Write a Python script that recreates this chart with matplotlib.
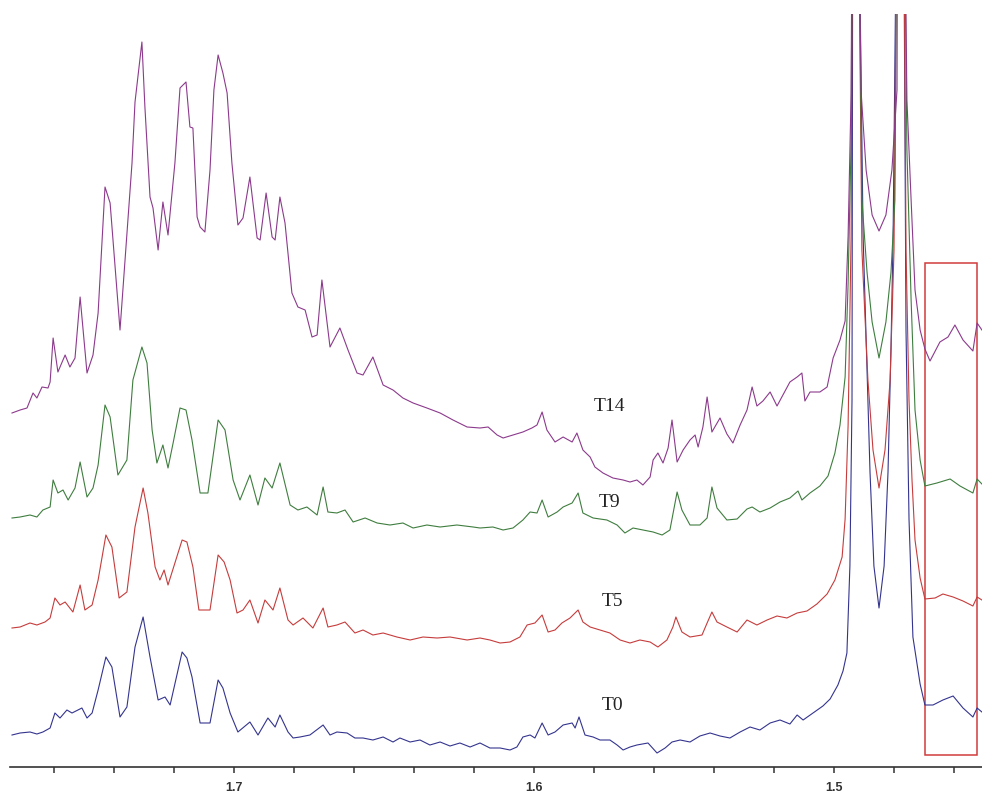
import numpy as np
import matplotlib
matplotlib.use("Agg")
import matplotlib.pyplot as plt
from matplotlib.patches import Rectangle

# 1H NMR stack, 1.45 - 1.77 ppm, intensities in arbitrary units
# T0 spectrum
t0_ppm = [1.7740, 1.7713, 1.7680, 1.7657, 1.7637, 1.7613, 1.7597, 1.7580, 1.7557, 1.7540,
          1.7507, 1.7490, 1.7473, 1.7453, 1.7427, 1.7407, 1.7380, 1.7357, 1.7330, 1.7303,
          1.7280, 1.7253, 1.7230, 1.7213, 1.7173, 1.7157, 1.7140, 1.7113, 1.7080, 1.7053,
          1.7037, 1.7013, 1.6987, 1.6947, 1.6920, 1.6887, 1.6863, 1.6847, 1.6820, 1.6803,
          1.6780, 1.6747, 1.6703, 1.6680, 1.6657, 1.6623, 1.6597, 1.6570, 1.6537, 1.6503,
          1.6470, 1.6447, 1.6413, 1.6380, 1.6347, 1.6313, 1.6280, 1.6247, 1.6213, 1.6180,
          1.6147, 1.6113, 1.6080, 1.6057, 1.6037, 1.6013, 1.5997, 1.5973, 1.5953, 1.5930,
          1.5903, 1.5873, 1.5863, 1.5850, 1.5830, 1.5803, 1.5780, 1.5747, 1.5723, 1.5703,
          1.5680, 1.5657, 1.5620, 1.5590, 1.5563, 1.5540, 1.5513, 1.5480, 1.5447, 1.5413,
          1.5380, 1.5347, 1.5313, 1.5280, 1.5247, 1.5213, 1.5180, 1.5147, 1.5123, 1.5103,
          1.5070, 1.5037, 1.5013, 1.4987, 1.4970, 1.4957, 1.4947, 1.4940, 1.4937, 1.4923,
          1.4903, 1.4880, 1.4867, 1.4850, 1.4833, 1.4820, 1.4810, 1.4803, 1.4787, 1.4770,
          1.4760, 1.4750, 1.4737, 1.4713, 1.4697, 1.4670, 1.4637, 1.4603, 1.4570, 1.4537,
          1.4523, 1.4507]
t0_int = [32, 34, 35, 33, 35, 39, 54, 49, 57, 54,
          59, 49, 54, 77, 110, 100, 50, 60, 120, 150,
          110, 67, 70, 62, 115, 109, 90, 44, 44, 87,
          79, 54, 35, 45, 32, 49, 40, 52, 35, 29,
          30, 32, 42, 32, 35, 34, 29, 29, 27, 30,
          25, 29, 25, 27, 22, 25, 21, 24, 20, 24,
          19, 19, 17, 20, 30, 32, 29, 44, 32, 35,
          42, 44, 39, 50, 32, 30, 27, 27, 22, 17,
          20, 22, 24, 14, 19, 25, 27, 25, 31, 34,
          31, 29, 35, 40, 37, 44, 47, 43, 52, 47,
          54, 61, 68, 82, 96, 114, 201, 367, 1000, 1000,
          531, 295, 201, 159, 201, 295, 420, 531, 1000, 1000,
          437, 248, 130, 83, 62, 62, 67, 71, 59, 50,
          59, 55]

# T5 spectrum
t5_ppm = [1.7740, 1.7713, 1.7680, 1.7657, 1.7630, 1.7613, 1.7597, 1.7580, 1.7563, 1.7537,
          1.7513, 1.7497, 1.7473, 1.7453, 1.7427, 1.7407, 1.7383, 1.7357, 1.7330, 1.7303,
          1.7287, 1.7263, 1.7247, 1.7233, 1.7220, 1.7197, 1.7173, 1.7157, 1.7137, 1.7117,
          1.7080, 1.7053, 1.7033, 1.7013, 1.6990, 1.6970, 1.6947, 1.6920, 1.6897, 1.6870,
          1.6847, 1.6820, 1.6803, 1.6770, 1.6737, 1.6703, 1.6687, 1.6657, 1.6630, 1.6597,
          1.6570, 1.6537, 1.6503, 1.6457, 1.6413, 1.6370, 1.6323, 1.6280, 1.6223, 1.6180,
          1.6147, 1.6113, 1.6080, 1.6047, 1.6023, 1.5997, 1.5973, 1.5953, 1.5930, 1.5907,
          1.5880, 1.5853, 1.5837, 1.5813, 1.5780, 1.5747, 1.5713, 1.5680, 1.5647, 1.5613,
          1.5587, 1.5557, 1.5537, 1.5527, 1.5507, 1.5480, 1.5440, 1.5423, 1.5407, 1.5390,
          1.5357, 1.5323, 1.5290, 1.5257, 1.5223, 1.5190, 1.5157, 1.5123, 1.5090, 1.5057,
          1.5023, 1.4997, 1.4973, 1.4963, 1.4953, 1.4943, 1.4937, 1.4923, 1.4907, 1.4887,
          1.4870, 1.4850, 1.4830, 1.4813, 1.4800, 1.4787, 1.4770, 1.4760, 1.4750, 1.4740,
          1.4730, 1.4713, 1.4697, 1.4663, 1.4637, 1.4603, 1.4570, 1.4537, 1.4523, 1.4507]
t5_int = [32, 33, 37, 35, 38, 42, 62, 55, 58, 48,
          75, 50, 55, 80, 125, 113, 62, 68, 133, 172,
          147, 93, 80, 90, 75, 97, 120, 118, 93, 50,
          50, 105, 98, 80, 47, 50, 60, 37, 60, 50,
          72, 40, 35, 42, 32, 52, 33, 35, 38, 27,
          30, 25, 27, 23, 20, 23, 22, 23, 20, 22,
          20, 17, 18, 23, 35, 37, 45, 28, 30, 37,
          42, 50, 38, 33, 30, 27, 20, 17, 20, 18,
          13, 20, 33, 43, 28, 23, 25, 37, 48, 38,
          33, 28, 40, 35, 40, 44, 42, 47, 49, 56,
          66, 80, 103, 141, 235, 424, 900, 900, 410, 280,
          210, 172, 210, 280, 410, 900, 900, 410, 260, 180,
          120, 82, 61, 62, 66, 63, 59, 54, 63, 60]

# T9 spectrum
t9_ppm = [1.7740, 1.7713, 1.7680, 1.7657, 1.7637, 1.7613, 1.7603, 1.7587, 1.7570, 1.7553,
          1.7530, 1.7513, 1.7490, 1.7470, 1.7453, 1.7430, 1.7413, 1.7387, 1.7357, 1.7337,
          1.7307, 1.7290, 1.7273, 1.7257, 1.7237, 1.7220, 1.7203, 1.7180, 1.7160, 1.7140,
          1.7113, 1.7087, 1.7053, 1.7030, 1.7003, 1.6980, 1.6947, 1.6920, 1.6897, 1.6873,
          1.6847, 1.6813, 1.6787, 1.6757, 1.6723, 1.6703, 1.6687, 1.6657, 1.6630, 1.6603,
          1.6563, 1.6523, 1.6480, 1.6437, 1.6403, 1.6357, 1.6313, 1.6257, 1.6203, 1.6180,
          1.6137, 1.6103, 1.6070, 1.6037, 1.6013, 1.5990, 1.5973, 1.5953, 1.5923, 1.5903,
          1.5873, 1.5853, 1.5837, 1.5803, 1.5757, 1.5723, 1.5697, 1.5670, 1.5637, 1.5603,
          1.5573, 1.5547, 1.5523, 1.5507, 1.5480, 1.5447, 1.5423, 1.5407, 1.5390, 1.5357,
          1.5323, 1.5290, 1.5273, 1.5247, 1.5213, 1.5180, 1.5147, 1.5120, 1.5107, 1.5080,
          1.5047, 1.5020, 1.4997, 1.4980, 1.4963, 1.4953, 1.4943, 1.4937, 1.4923, 1.4907,
          1.4890, 1.4873, 1.4850, 1.4827, 1.4810, 1.4797, 1.4787, 1.4770, 1.4757, 1.4743,
          1.4730, 1.4713, 1.4697, 1.4657, 1.4613, 1.4580, 1.4537, 1.4523, 1.4507]
t9_int = [34, 35, 37, 35, 42, 45, 72, 59, 62, 52,
          64, 90, 55, 64, 87, 147, 135, 77, 92, 172,
          205, 189, 122, 89, 107, 84, 109, 144, 142, 112,
          59, 59, 132, 122, 72, 52, 77, 47, 74, 64,
          89, 47, 42, 45, 37, 65, 40, 39, 42, 30,
          34, 29, 27, 29, 24, 27, 25, 27, 25, 24,
          25, 22, 24, 32, 40, 39, 52, 35, 40, 45,
          49, 59, 39, 34, 32, 27, 19, 24, 22, 20,
          17, 22, 60, 42, 27, 27, 34, 65, 44, 32,
          33, 43, 45, 40, 44, 50, 54, 61, 52, 59,
          66, 76, 99, 127, 175, 269, 410, 800, 800, 352,
          280, 230, 194, 230, 280, 352, 800, 800, 402, 252,
          142, 92, 66, 69, 73, 66, 59, 73, 68]

# T14 spectrum
t14_ppm = [1.7740, 1.7713, 1.7690, 1.7670, 1.7657, 1.7640, 1.7620, 1.7613, 1.7603, 1.7587,
           1.7563, 1.7547, 1.7530, 1.7513, 1.7490, 1.7470, 1.7453, 1.7430, 1.7413, 1.7380,
           1.7340, 1.7330, 1.7307, 1.7297, 1.7280, 1.7270, 1.7253, 1.7237, 1.7220, 1.7197,
           1.7180, 1.7160, 1.7147, 1.7137, 1.7123, 1.7113, 1.7097, 1.7080, 1.7067, 1.7053,
           1.7037, 1.7023, 1.7007, 1.6987, 1.6970, 1.6947, 1.6923, 1.6913, 1.6893, 1.6873,
           1.6863, 1.6847, 1.6830, 1.6807, 1.6787, 1.6763, 1.6740, 1.6723, 1.6707, 1.6680,
           1.6647, 1.6620, 1.6590, 1.6570, 1.6537, 1.6503, 1.6470, 1.6437, 1.6403, 1.6357,
           1.6313, 1.6270, 1.6223, 1.6180, 1.6153, 1.6123, 1.6103, 1.6070, 1.6037, 1.6007,
           1.5990, 1.5973, 1.5957, 1.5930, 1.5903, 1.5873, 1.5857, 1.5837, 1.5813, 1.5797,
           1.5770, 1.5737, 1.5703, 1.5680, 1.5657, 1.5637, 1.5613, 1.5603, 1.5587, 1.5570,
           1.5553, 1.5540, 1.5523, 1.5503, 1.5480, 1.5463, 1.5453, 1.5437, 1.5423, 1.5407,
           1.5380, 1.5357, 1.5337, 1.5313, 1.5290, 1.5273, 1.5257, 1.5237, 1.5213, 1.5190,
           1.5147, 1.5123, 1.5107, 1.5097, 1.5080, 1.5047, 1.5023, 1.5003, 1.4980, 1.4963,
           1.4953, 1.4943, 1.4937, 1.4923, 1.4910, 1.4893, 1.4873, 1.4850, 1.4827, 1.4807,
           1.4790, 1.4787, 1.4770, 1.4757, 1.4743, 1.4730, 1.4713, 1.4697, 1.4680, 1.4647,
           1.4620, 1.4597, 1.4570, 1.4537, 1.4523, 1.4507]
t14_int = [32, 35, 37, 52, 47, 58, 57, 63, 107, 73,
           90, 78, 87, 148, 72, 90, 132, 258, 242, 115,
           282, 343, 403, 338, 248, 237, 195, 243, 210, 282,
           357, 363, 318, 317, 228, 218, 213, 275, 355, 390,
           372, 352, 282, 220, 227, 268, 207, 205, 252, 208,
           205, 248, 222, 152, 138, 135, 108, 110, 165, 98,
           117, 95, 72, 70, 88, 60, 55, 47, 42, 37,
           32, 25, 18, 17, 18, 10, 7, 10, 13, 17,
           20, 33, 15, 3, 8, 3, 12, -5, -12, -22,
           -28, -33, -35, -37, -35, -40, -32, -15, -8, -18,
           -3, 25, -17, -5, 5, 10, -2, 18, 48, 13,
           27, 11, 2, 20, 35, 58, 39, 44, 53, 39,
           63, 68, 72, 44, 53, 53, 58, 87, 105, 124,
           209, 351, 700, 700, 355, 275, 230, 214, 230, 275,
           355, 700, 700, 345, 245, 155, 115, 96, 84, 103,
           108, 120, 105, 94, 122, 115]

names = ["T0", "T5", "T9", "T14"]
colors = ["#34348f", "#c63c3c", "#3f7d3f", "#8c3a8c"]

spectra = [(t0_ppm, t0_int), (t5_ppm, t5_int), (t9_ppm, t9_int), (t14_ppm, t14_int)]
offsets = [0, 107, 215, 322]  # vertical stacking

fig = plt.figure(figsize=(9.82, 7.94), dpi=100)
ax = fig.add_axes([10 / 982, 27 / 794, 972 / 982, 753 / 794])

for (ppm, inten), off, c in zip(spectra, offsets, colors):
    ax.plot(ppm, np.array(inten) + off, color=c, lw=0.8)

# sample labels
label_pos = [(1.5737, 62), (1.5740, 165), (1.5747, 265), (1.5747, 361)]
for name, (lx, ly) in zip(names, label_pos):
    ax.text(lx, ly, name, ha="center", va="center", fontsize=14,
            family="Liberation Serif", color="#222222")

# highlighted region
ax.add_patch(Rectangle((1.4523, 12), 0.0174, 492, fill=False,
                       edgecolor="#d23c3c", lw=1.1, clip_on=False))

ax.set_xlim(1.77467, 1.45067)
ax.set_ylim(0, 753)

for s in ["top", "left", "right"]:
    ax.spines[s].set_visible(False)
ax.spines["bottom"].set_color("#333333")
ax.spines["bottom"].set_linewidth(1.2)
ax.set_yticks([])

ax.set_xticks([1.7, 1.6, 1.5])
ax.set_xticklabels(["1.7", "1.6", "1.5"], fontsize=9, fontweight="bold",
                   family="Liberation Sans", color="#333333")
ax.set_xticks(np.arange(1.46, 1.77, 0.02), minor=True)
ax.tick_params(axis="x", which="both", direction="out", length=4.5,
               width=1.1, color="#333333", pad=6)

fig.savefig("out.png", dpi=100)
